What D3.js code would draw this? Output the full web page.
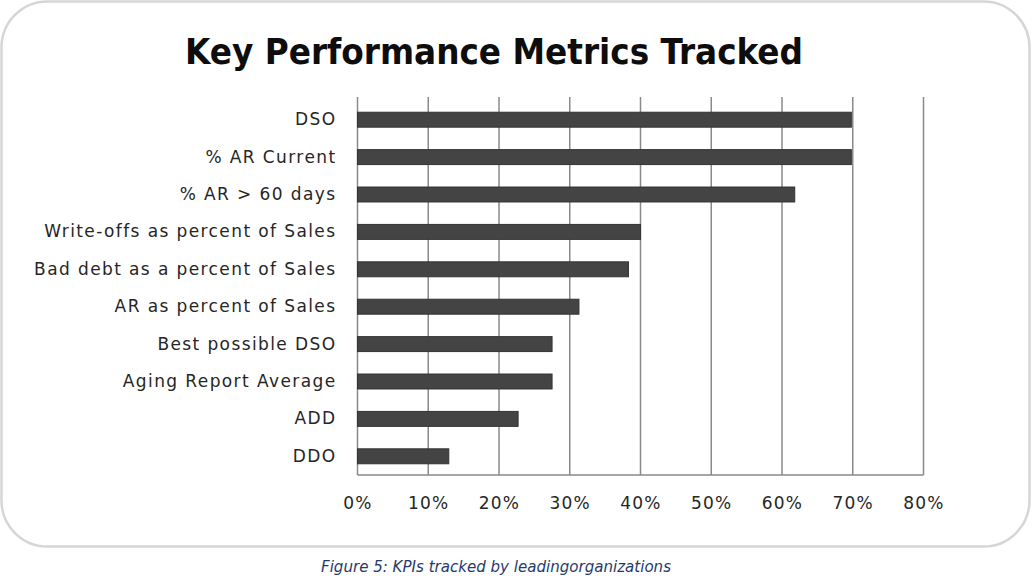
<!DOCTYPE html>
<html>
<head>
    <meta charset="utf-8">
    <style>
        body {
            margin: 0;
            background: #fff;
        }

        svg {
            display: block;
        }

        .x .domain {
            display: none;
        }

        .x .tick line {
            display: none;
        }

        .x .tick text {
            font-size: 17px;
            letter-spacing: 1.2px;
            font-family: "DejaVu Sans", Verdana, sans-serif;
            fill: #262626;
        }

        .y .domain {
            display: none;
        }

        .y .tick line {
            display: none;
        }

        .y .tick text {
            font-size: 17px;
            letter-spacing: 1.4px;
            font-family: "DejaVu Sans", Verdana, sans-serif;
            fill: #262626;
        }
    </style>
</head>

<body>
    <svg width="1033" height="586"></svg>
</body>

<script src="https://d3js.org/d3.v7.min.js"></script>

<script>
    // data
    let metrics = ["DSO", "% AR Current", "% AR > 60 days", "Write-offs as percent of Sales",
        "Bad debt as a percent of Sales", "AR as percent of Sales", "Best possible DSO",
        "Aging Report Average", "ADD", "DDO"]
    let shares = [0.698, 0.698, 0.618, 0.40, 0.383, 0.313, 0.275, 0.275, 0.227, 0.129]
    let tickValues = [0, 0.1, 0.2, 0.3, 0.4, 0.5, 0.6, 0.7, 0.8]

    let data = metrics.map(function (m, i) {
        return { metric: m, share: shares[i] }
    })

    let svg = d3.select("svg")

    let margin = { top: 101, right: 109.5, bottom: 111, left: 357.5 }
    let width = 1033
    let height = 586

    // rounded frame
    svg.append("rect")
        .attr("x", 1.5)
        .attr("y", 1.5)
        .attr("width", 1028)
        .attr("height", 545)
        .attr("rx", 46)
        .attr("ry", 46)
        .style("fill", "#fff")
        .style("stroke", "#d6d6d6")
        .style("stroke-width", "2.5px")

    svg.append("text")
        .attr("x", 494)
        .attr("y", 64)
        .attr("text-anchor", "middle")
        .attr("textLength", 618)
        .attr("lengthAdjust", "spacingAndGlyphs")
        .style("font-family", "'Liberation Sans Narrow', 'DejaVu Sans Condensed', 'Open Sans', sans-serif")
        .style("font-weight", "bold")
        .style("font-size", "36px")
        .style("fill", "#0d0d0d")
        .text("Key Performance Metrics Tracked")

    let x = d3.scaleLinear()
        .domain([0, 0.8])
        .range([margin.left, width - margin.right])

    let y = d3.scaleBand()
        .domain(metrics)
        .range([margin.top, height - margin.bottom])
        .paddingInner(0.6)
        .paddingOuter(0.3)

    let gridTop = margin.top - 4
    let gridBottom = height - margin.bottom

    // vertical gridlines
    svg.append("g")
        .selectAll("line")
        .data(tickValues)
        .join("line")
        .attr("x1", d => x(d))
        .attr("x2", d => x(d))
        .attr("y1", gridTop)
        .attr("y2", gridBottom)
        .style("stroke", "#8a8a8a")
        .style("stroke-width", "1.5px")

    // bottom axis line
    svg.append("line")
        .attr("x1", x(0))
        .attr("x2", x(0.8))
        .attr("y1", gridBottom)
        .attr("y2", gridBottom)
        .style("stroke", "#8a8a8a")
        .style("stroke-width", "1.5px")

    svg.append("g")
        .selectAll("rect")
        .data(data)
        .join("rect")
        .attr("x", x(0))
        .attr("y", d => y(d.metric))
        .attr("width", d => x(d.share) - x(0))
        .attr("height", y.bandwidth())
        .style("fill", "#444")
        .style("stroke", "#333")
        .style("stroke-width", "1px")

    let xAxisSettings = d3.axisBottom(x)
        .tickValues(tickValues)
        .tickFormat(d3.format(".0%"))
        .tickSize(0)
        .tickPadding(22)

    svg.append("g")
        .attr("class", "x axis")
        .attr("transform", `translate(0,${gridBottom})`)
        .call(xAxisSettings)

    let yAxisSettings = d3.axisLeft(y)
        .tickSize(0)
        .tickPadding(21)

    svg.append("g")
        .attr("class", "y axis")
        .attr("transform", `translate(${margin.left},0)`)
        .call(yAxisSettings)

    svg.append("text")
        .attr("x", 496)
        .attr("y", 572)
        .attr("text-anchor", "middle")
        .attr("textLength", 350)
        .attr("lengthAdjust", "spacingAndGlyphs")
        .style("font-family", "'DejaVu Sans', sans-serif")
        .style("font-style", "italic")
        .style("font-size", "16px")
        .style("fill", "#1f3a6b")
        .text("Figure 5: KPIs tracked by leadingorganizations")
</script>
</html>
